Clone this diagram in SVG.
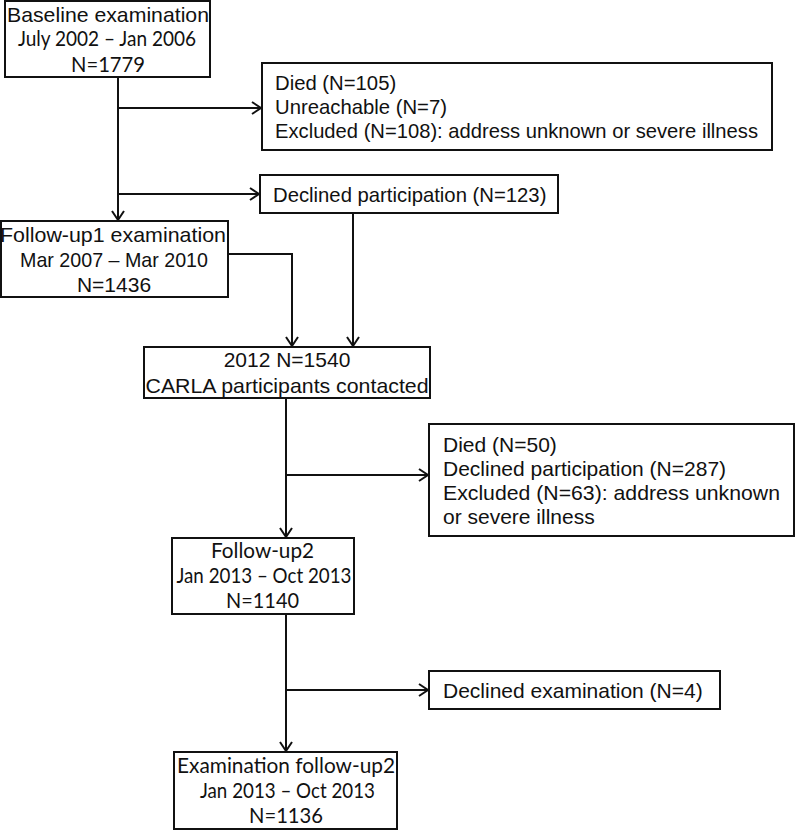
<svg xmlns="http://www.w3.org/2000/svg" width="800" height="830" viewBox="0 0 800 830">
<style>
.box{fill:#fff;stroke:#111;stroke-width:2}
.a{font-family:"Liberation Sans",Arial,sans-serif;font-size:21px;fill:#111}
.s{font-size:20.3px}
.c{font-family:Lato,"Liberation Sans",sans-serif;font-size:21px;fill:#111}
.m{text-anchor:middle}
.ln{fill:none;stroke:#111;stroke-width:2;marker-end:url(#arr)}
</style>
<defs>
<marker id="arr" markerWidth="12" markerHeight="16" refX="10" refY="7" orient="auto" markerUnits="userSpaceOnUse">
<path d="M1,1 L10,7 L1,13" fill="none" stroke="#111" stroke-width="2"/>
</marker>
</defs>
<rect width="800" height="830" fill="#fff"/>
<g id="connectors">
<path class="ln" d="M118,77 V220"/>
<path class="ln" d="M118,108 H261"/>
<path class="ln" d="M118,194 H259"/>
<path class="ln" d="M353,213 V346"/>
<path class="ln" d="M228,254 H292 V346"/>
<path class="ln" d="M286,398 V537"/>
<path class="ln" d="M286,475 H428"/>
<path class="ln" d="M286,614 V751"/>
<path class="ln" d="M286,690 H428"/>
</g>
<g id="baseline">
<rect class="box" x="5" y="1" width="205" height="76"/>
<text class="a m" x="108" y="22" textLength="202" lengthAdjust="spacingAndGlyphs">Baseline examination</text>
<text class="c m" x="107" y="46" textLength="178" lengthAdjust="spacingAndGlyphs">July 2002 – Jan 2006</text>
<text class="c m" x="108" y="72" textLength="74" lengthAdjust="spacingAndGlyphs">N=1779</text>
</g>
<g id="excluded1">
<rect class="box" x="262" y="63" width="510" height="87"/>
<text class="a s" x="275" y="90">Died (N=105)</text>
<text class="a s" x="275" y="114">Unreachable (N=7)</text>
<text class="a s" x="275" y="138" textLength="483" lengthAdjust="spacingAndGlyphs">Excluded (N=108): address unknown or severe illness</text>
</g>
<g id="declined1">
<rect class="box" x="260" y="175" width="298" height="38"/>
<text class="a s" x="273" y="202">Declined participation (N=123)</text>
</g>
<g id="followup1">
<rect class="box" x="1" y="221" width="227" height="76"/>
<text class="a m" x="113" y="242" textLength="226" lengthAdjust="spacingAndGlyphs">Follow-up1 examination</text>
<text class="a m" x="114" y="267" textLength="188" lengthAdjust="spacingAndGlyphs">Mar 2007 – Mar 2010</text>
<text class="a m" x="114" y="292">N=1436</text>
</g>
<g id="carla">
<rect class="box" x="144" y="347" width="286" height="51"/>
<text class="a m" x="287" y="367">2012 N=1540</text>
<text class="a m" x="287" y="393" textLength="283" lengthAdjust="spacingAndGlyphs">CARLA participants contacted</text>
</g>
<g id="excluded2">
<rect class="box" x="429" y="424" width="365" height="112"/>
<text class="a" x="443" y="452">Died (N=50)</text>
<text class="a" x="443" y="476">Declined participation (N=287)</text>
<text class="a" x="443" y="500" textLength="337" lengthAdjust="spacingAndGlyphs">Excluded (N=63): address unknown</text>
<text class="a" x="443" y="524">or severe illness</text>
</g>
<g id="followup2">
<rect class="box" x="172" y="538" width="182" height="76"/>
<text class="c m" x="262.5" y="558" textLength="103" lengthAdjust="spacingAndGlyphs">Follow-up2</text>
<text class="c m" x="264" y="583" textLength="175" lengthAdjust="spacingAndGlyphs">Jan 2013 – Oct 2013</text>
<text class="c m" x="262.5" y="608" textLength="73" lengthAdjust="spacingAndGlyphs">N=1140</text>
</g>
<g id="declined2">
<rect class="box" x="429" y="671" width="291" height="38"/>
<text class="a" x="443" y="698">Declined examination (N=4)</text>
</g>
<g id="exam-followup2">
<rect class="box" x="174" y="752" width="223" height="77"/>
<text class="c m" x="286" y="773" textLength="218" lengthAdjust="spacingAndGlyphs">Examination follow-up2</text>
<text class="c m" x="287.5" y="798" textLength="175" lengthAdjust="spacingAndGlyphs">Jan 2013 – Oct 2013</text>
<text class="c m" x="286" y="823" textLength="74" lengthAdjust="spacingAndGlyphs">N=1136</text>
</g>
</svg>
